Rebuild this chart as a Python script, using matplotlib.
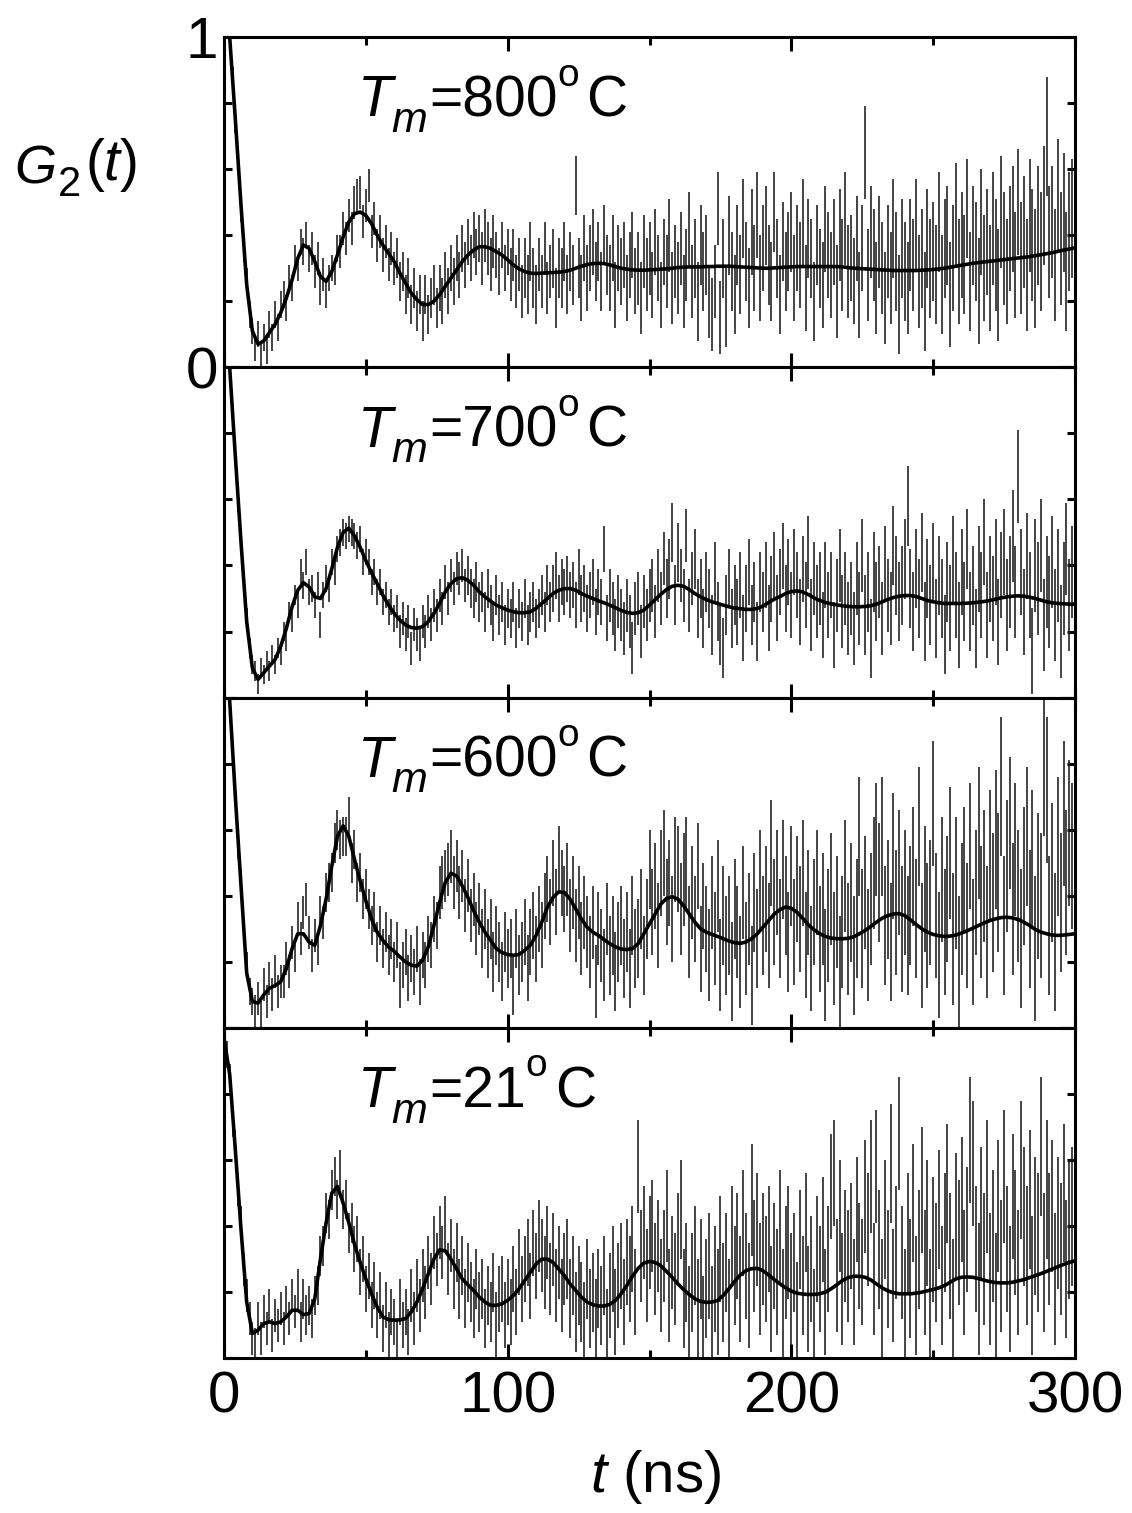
import numpy as np
import matplotlib
matplotlib.use('Agg')
import matplotlib.pyplot as plt  # noqa
from matplotlib.ticker import MultipleLocator

plt.rcParams.update({
    'font.family': ['Liberation Sans', 'DejaVu Sans'],
    'mathtext.fontset': 'custom',
    'mathtext.rm': 'Liberation Sans',
    'mathtext.it': 'Liberation Sans:italic',
    'axes.linewidth': 2.2,
})

# measured G2(t), one point per ns from t = 1 ns, in units of 0.01
g800 = [113, 99, 88, 74, 63, 48, 36, 26, 16, 11,
        6, 10, 4, 9, 5, 13, 9, 16, 12, 19,
        22, 18, 27, 24, 33, 30, 38, 35, 40, 33,
        36, 29, 33, 24, 28, 22, 27, 30, 29, 36,
        35, 42, 39, 46, 42, 50, 52, 53, 44, 49,
        55, 41, 45, 37, 41, 34, 38, 31, 36, 30,
        33, 26, 29, 22, 27, 19, 24, 17, 22, 14,
        22, 16, 21, 25, 18, 24, 20, 28, 23, 30,
        26, 33, 28, 36, 31, 38, 33, 40, 35, 39,
        33, 40, 36, 31, 38, 34, 29, 37, 30, 35,
        28, 34, 26, 31, 23, 30, 25, 35, 27, 22,
        31, 26, 36, 24, 29, 33, 21, 30, 27, 35,
        25, 32, 28, 55, 30, 24, 36, 27, 33, 38,
        29, 35, 26, 40, 31, 27, 36, 22, 33, 29,
        34, 24, 31, 37, 26, 30, 21, 35, 28, 33,
        25, 38, 30, 22, 35, 29, 40, 24, 32, 27,
        36, 23, 31, 42, 26, 33, 20, 37, 29, 34,
        20, 16, 26, 48, 15, 33, 18, 40, 29, 22,
        37, 28, 45, 32, 24, 41, 30, 46, 27, 36,
        43, 31, 26, 47, 33, 22, 38, 29, 35, 41,
        27, 36, 31, 44, 24, 39, 33, 20, 37, 30,
        25, 42, 34, 28, 38, 23, 40, 31, 45, 29,
        33, 26, 39, 22, 36, 65, 28, 41, 34, 24,
        38, 30, 21, 35, 27, 42, 32, 19, 36, 29,
        24, 37, 31, 43, 26, 33, 20, 39, 30, 35,
        28, 44, 25, 36, 40, 22, 33, 46, 29, 37,
        31, 48, 26, 40, 35, 23, 44, 30, 38, 27,
        42, 34, 25, 47, 36, 29, 39, 45, 31, 50,
        33, 41, 28, 46, 37, 30, 43, 35, 49, 70,
        38, 44, 31, 52, 36, 47, 29, 41, 45, 38]

g700 = [112, 102, 86, 74, 59, 48, 34, 24, 15, 10,
        8, 4, 9, 7, 11, 8, 13, 10, 15, 13,
        20, 17, 26, 23, 31, 28, 38, 34, 41, 32,
        33, 28, 34, 22, 31, 36, 33, 41, 38, 45,
        47, 50, 49, 51, 50, 49, 46, 48, 41, 44,
        41, 35, 38, 32, 35, 29, 31, 26, 29, 24,
        26, 20, 24, 19, 23, 15, 22, 19, 16, 23,
        20, 26, 22, 28, 25, 31, 27, 35, 30, 37,
        33, 39, 36, 40, 34, 37, 33, 30, 35, 29,
        32, 26, 33, 28, 23, 31, 25, 29, 22, 27,
        24, 29, 21, 27, 23, 30, 22, 26, 29, 24,
        27, 31, 26, 34, 29, 33, 37, 30, 35, 32,
        36, 31, 34, 28, 38, 30, 33, 27, 31, 35,
        26, 32, 29, 45, 24, 31, 27, 22, 29, 25,
        21, 28, 23, 15, 27, 30, 20, 29, 25, 31,
        34, 26, 37, 30, 42, 33, 39, 50, 31, 44,
        37, 31, 49, 28, 36, 42, 27, 33, 24, 35,
        30, 22, 38, 26, 19, 15, 28, 36, 24, 31,
        26, 34, 21, 30, 38, 25, 32, 20, 35, 29,
        37, 24, 33, 40, 27, 35, 43, 30, 38, 28,
        41, 34, 26, 39, 31, 44, 25, 36, 29, 33,
        22, 37, 28, 34, 19, 31, 40, 26, 33, 24,
        30, 21, 36, 27, 43, 25, 32, 18, 38, 29,
        35, 24, 41, 31, 27, 46, 37, 29, 34, 42,
        58, 33, 26, 39, 30, 44, 23, 36, 28, 41,
        24, 37, 30, 19, 35, 27, 42, 31, 22, 38,
        29, 45, 26, 34, 21, 39, 31, 47, 25, 36,
        30, 41, 23, 37, 44, 28, 35, 49, 32, 67,
        38, 26, 43, 31, 14, 40, 33, 46, 22, 35,
        29, 41, 25, 37, 20, 33, 45, 28, 38, 31]

g600 = [115, 97, 83, 72, 55, 44, 29, 19, 11, 8,
        5, 9, 3, 13, 8, 15, 10, 17, 11, 14,
        14, 21, 17, 26, 22, 33, 27, 35, 39, 29,
        22, 28, 24, 35, 32, 41, 44, 47, 56, 60,
        57, 58, 58, 64, 50, 54, 44, 47, 39, 42,
        36, 31, 35, 26, 31, 24, 29, 22, 27, 20,
        25, 13, 19, 23, 15, 21, 17, 24, 14, 22,
        19, 27, 25, 33, 31, 41, 44, 46, 48, 52,
        44, 49, 41, 46, 37, 43, 34, 39, 30, 36,
        27, 33, 24, 30, 20, 28, 23, 17, 26, 21,
        24, 13, 27, 19, 23, 29, 18, 26, 31, 24,
        33, 28, 37, 42, 35, 47, 38, 51, 44, 39,
        45, 34, 41, 31, 38, 27, 35, 29, 23, 32,
        14, 30, 25, 19, 33, 22, 28, 17, 26, 31,
        21, 29, 18, 34, 24, 27, 36, 22, 33, 48,
        35, 43, 31, 47, 53, 38, 44, 33, 51, 48,
        36, 45, 50, 29, 41, 33, 49, 24, 37, 30,
        22, 38, 27, 43, 19, 34, 25, 31, 17, 36,
        29, 20, 41, 24, 33, 16, 38, 27, 45, 31,
        39, 28, 53, 35, 44, 30, 48, 37, 26, 46,
        29, 42, 33, 47, 25, 38, 21, 35, 44, 27,
        36, 19, 31, 42, 24, 35, 17, 29, 46, 27,
        38, 22, 33, 58, 30, 41, 25, 36, 47, 57,
        44, 58, 31, 39, 26, 52, 35, 47, 30, 41,
        28, 37, 49, 33, 61, 25, 42, 31, 38, 68,
        34, 22, 45, 29, 39, 53, 27, 44, 20, 36,
        48, 31, 55, 26, 41, 59, 35, 46, 29, 52,
        38, 57, 44, 73, 31, 49, 62, 36, 54, 40,
        27, 46, 58, 33, 51, 24, 43, 37, 80, 72,
        31, 47, 26, 55, 38, 65, 44, 59, 52, 67]

g21 = [92, 85, 71, 65, 50, 41, 27, 19, 12, 6,
       4, 12, 6, 14, 9, 16, 7, 13, 10, 15,
       9, 17, 12, 19, 14, 21, 11, 18, 13, 16,
       12, 19, 22, 31, 34, 44, 42, 51, 55, 48,
       57, 45, 48, 38, 41, 33, 36, 26, 30, 21,
       25, 16, 22, 13, 19, 9, 16, 7, 14, 11,
       5, 17, 10, 14, 8, 19, 12, 22, 16, 25,
       20, 29, 24, 35, 30, 38, 32, 41, 27, 34,
       24, 32, 21, 28, 18, 26, 20, 15, 24, 17,
       21, 12, 19, 14, 23, 10, 18, 21, 13, 20,
       14, 24, 17, 29, 21, 27, 32, 22, 35, 28,
       37, 31, 26, 35, 24, 33, 22, 29, 19, 27,
       30, 18, 25, 14, 22, 17, 11, 24, 15, 20,
       12, 21, 16, 25, 9, 19, 27, 14, 22, 28,
       17, 29, 24, 33, 20, 58, 31, 38, 25, 35,
       40, 27, 34, 22, 31, 43, 19, 29, 24, 36,
       45, 18, 26, 13, 23, 31, 15, 27, 10, 21,
       28, 12, 24, 17, 33, 20, 29, 15, 37, 25,
       34, 21, 41, 28, 19, 48, 31, 39, 24, 33,
       27, 36, 18, 31, 23, 40, 16, 29, 35, 21,
       29, 14, 36, 22, 41, 18, 27, 11, 33, 24,
       39, 17, 30, 52, 56, 25, 43, 21, 34, 28,
       37, 20, 45, 31, 26, 49, 39, 55, 24, 58,
       33, 18, 42, 27, 59, 22, 35, 68, 29, 16,
       38, 24, 47, 19, 33, 51, 26, 41, 14, 36,
       29, 45, 22, 38, 53, 31, 17, 43, 35, 48,
       26, 39, 66, 59, 33, 21, 44, 30, 52, 24,
       37, 18, 46, 28, 55, 33, 21, 49, 38, 26,
       57, 43, 31, 48, 22, 40, 35, 64, 29, 51,
       36, 46, 24, 41, 33, 50, 27, 39, 43, 35]

# error bar half-lengths (units of 0.01), one value per 5 ns block
e800 = [3, 4, 4, 4, 4, 4, 5, 4, 5, 5, 5, 5, 6, 6, 6, 7, 7, 7, 8, 7,
        8, 9, 8, 9, 9, 10, 9, 10, 10, 11, 10, 11, 11, 12, 11, 12, 12, 13, 12, 12,
        13, 12, 13, 14, 13, 14, 14, 15, 14, 15, 15, 16, 15, 16, 17, 16, 17, 18, 17, 18]
e700 = [3, 3, 3, 3, 3, 4, 4, 4, 4, 4, 4, 4, 5, 5, 5, 5, 5, 6, 6, 6,
        6, 6, 6, 7, 7, 7, 7, 8, 8, 8, 8, 9, 8, 9, 9, 9, 10, 9, 10, 10,
        10, 11, 10, 11, 11, 12, 11, 12, 12, 12, 12, 13, 12, 13, 13, 14, 13, 14, 14, 14]
e600 = [4, 4, 5, 5, 5, 5, 5, 6, 6, 6, 6, 6, 7, 7, 7, 8, 8, 8, 9, 9,
        9, 10, 10, 10, 11, 11, 11, 12, 12, 12, 13, 13, 14, 13, 14, 15, 14, 15, 16, 15,
        16, 16, 17, 17, 18, 17, 18, 19, 18, 19, 19, 20, 19, 20, 21, 20, 21, 22, 21, 22]
e21 = [4, 5, 5, 5, 5, 6, 6, 6, 6, 7, 7, 7, 7, 8, 8, 8, 9, 9, 9, 10,
       10, 10, 11, 11, 12, 12, 12, 13, 13, 14, 14, 14, 15, 15, 16, 15, 16, 17, 16, 17,
       15, 16, 16, 17, 16, 17, 18, 17, 18, 19, 18, 19, 19, 20, 20, 19, 21, 21, 20, 21]

# fitted curves, one value every 2 ns from t = 0
fit800 = [1.25, 1.00, 0.75, 0.49, 0.25, 0.11, 0.07, 0.08, 0.105, 0.13,
          0.165, 0.21, 0.265, 0.33, 0.37, 0.36, 0.32, 0.275, 0.26, 0.29,
          0.34, 0.395, 0.44, 0.465, 0.47, 0.46, 0.435, 0.40, 0.37, 0.345,
          0.32, 0.285, 0.255, 0.225, 0.205, 0.19, 0.19, 0.20, 0.22, 0.245,
          0.27, 0.295, 0.32, 0.34, 0.355, 0.365, 0.365, 0.36, 0.35, 0.34,
          0.325, 0.31, 0.298, 0.29, 0.285, 0.284, 0.285, 0.286, 0.287, 0.288,
          0.29, 0.294, 0.30, 0.306, 0.311, 0.314, 0.315, 0.314, 0.31, 0.305,
          0.30, 0.297, 0.295, 0.294, 0.294, 0.295, 0.296, 0.297, 0.298, 0.30,
          0.302, 0.303, 0.304, 0.304, 0.304, 0.305, 0.305, 0.306, 0.306, 0.306,
          0.305, 0.304, 0.303, 0.302, 0.301, 0.30, 0.30, 0.301, 0.302, 0.303,
          0.304, 0.305, 0.305, 0.305, 0.305, 0.305, 0.305, 0.305, 0.305, 0.304,
          0.302, 0.30, 0.299, 0.298, 0.297, 0.296, 0.295, 0.294, 0.293, 0.293,
          0.293, 0.293, 0.293, 0.294, 0.295, 0.296, 0.298, 0.30, 0.303, 0.306,
          0.309, 0.312, 0.315, 0.317, 0.319, 0.321, 0.323, 0.325, 0.327, 0.329,
          0.331, 0.333, 0.335, 0.338, 0.341, 0.344, 0.347, 0.351, 0.355, 0.358,
          0.362]

fit700 = [1.25, 1.00, 0.73, 0.47, 0.23, 0.09, 0.055, 0.075, 0.095, 0.115,
          0.155, 0.21, 0.275, 0.325, 0.348, 0.335, 0.305, 0.30, 0.33, 0.39,
          0.455, 0.50, 0.513, 0.49, 0.455, 0.415, 0.378, 0.345, 0.31, 0.28,
          0.255, 0.235, 0.22, 0.212, 0.21, 0.215, 0.23, 0.255, 0.285, 0.32,
          0.345, 0.36, 0.363, 0.355, 0.34, 0.32, 0.305, 0.292, 0.28, 0.272,
          0.265, 0.26, 0.257, 0.257, 0.26, 0.27, 0.285, 0.30, 0.315, 0.325,
          0.33, 0.33, 0.325, 0.315, 0.307, 0.30, 0.293, 0.287, 0.28, 0.272,
          0.264, 0.258, 0.255, 0.257, 0.265, 0.28, 0.297, 0.313, 0.327, 0.337,
          0.34, 0.337, 0.327, 0.315, 0.305, 0.297, 0.29, 0.285, 0.28, 0.275,
          0.271, 0.269, 0.267, 0.267, 0.27, 0.277, 0.288, 0.298, 0.306, 0.315,
          0.321, 0.323, 0.32, 0.312, 0.302, 0.294, 0.288, 0.284, 0.281, 0.278,
          0.276, 0.275, 0.275, 0.276, 0.278, 0.283, 0.29, 0.297, 0.303, 0.307,
          0.309, 0.309, 0.306, 0.30, 0.294, 0.29, 0.287, 0.285, 0.285, 0.285,
          0.285, 0.286, 0.287, 0.289, 0.291, 0.294, 0.298, 0.302, 0.305, 0.307,
          0.308, 0.307, 0.304, 0.30, 0.295, 0.29, 0.287, 0.285, 0.284, 0.283,
          0.283]

fit600 = [1.25, 0.99, 0.70, 0.43, 0.166, 0.08, 0.075, 0.10, 0.12, 0.128,
          0.14, 0.18, 0.24, 0.285, 0.285, 0.26, 0.25, 0.31, 0.39, 0.49,
          0.58, 0.612, 0.58, 0.51, 0.445, 0.385, 0.33, 0.29, 0.265, 0.245,
          0.232, 0.215, 0.20, 0.19, 0.187, 0.205, 0.245, 0.31, 0.38, 0.44,
          0.468, 0.46, 0.43, 0.395, 0.355, 0.32, 0.29, 0.265, 0.24, 0.228,
          0.222, 0.22, 0.222, 0.235, 0.25, 0.28, 0.32, 0.365, 0.395, 0.412,
          0.41, 0.39, 0.36, 0.33, 0.305, 0.29, 0.28, 0.267, 0.255, 0.245,
          0.239, 0.237, 0.24, 0.255, 0.285, 0.315, 0.345, 0.375, 0.392, 0.397,
          0.39, 0.37, 0.345, 0.32, 0.30, 0.29, 0.283, 0.277, 0.27, 0.263,
          0.258, 0.256, 0.26, 0.27, 0.285, 0.305, 0.325, 0.345, 0.358, 0.366,
          0.362, 0.35, 0.332, 0.312, 0.297, 0.285, 0.277, 0.272, 0.27, 0.27,
          0.271, 0.276, 0.285, 0.295, 0.307, 0.32, 0.332, 0.34, 0.345, 0.346,
          0.34, 0.327, 0.313, 0.30, 0.29, 0.283, 0.279, 0.277, 0.278, 0.281,
          0.287, 0.294, 0.302, 0.31, 0.318, 0.325, 0.33, 0.334, 0.335, 0.333,
          0.328, 0.32, 0.31, 0.298, 0.29, 0.285, 0.281, 0.28, 0.281, 0.283,
          0.285]

fit21 = [0.97, 0.86, 0.63, 0.39, 0.17, 0.075, 0.085, 0.105, 0.11, 0.105,
         0.11, 0.125, 0.145, 0.145, 0.132, 0.135, 0.18, 0.30, 0.41, 0.50,
         0.52, 0.47, 0.41, 0.345, 0.29, 0.24, 0.195, 0.155, 0.125, 0.117,
         0.115, 0.116, 0.12, 0.14, 0.17, 0.21, 0.255, 0.30, 0.328, 0.325,
         0.30, 0.27, 0.24, 0.222, 0.205, 0.185, 0.17, 0.16, 0.16, 0.165,
         0.175, 0.19, 0.21, 0.235, 0.26, 0.285, 0.30, 0.30, 0.29, 0.27,
         0.25, 0.225, 0.205, 0.185, 0.17, 0.162, 0.158, 0.158, 0.163, 0.175,
         0.195, 0.22, 0.248, 0.272, 0.288, 0.293, 0.29, 0.28, 0.263, 0.245,
         0.225, 0.208, 0.193, 0.18, 0.172, 0.169, 0.17, 0.175, 0.19, 0.21,
         0.232, 0.252, 0.265, 0.271, 0.272, 0.265, 0.252, 0.238, 0.225, 0.213,
         0.203, 0.197, 0.194, 0.193, 0.193, 0.195, 0.20, 0.21, 0.222, 0.235,
         0.244, 0.248, 0.248, 0.245, 0.237, 0.225, 0.213, 0.204, 0.198, 0.195,
         0.195, 0.195, 0.197, 0.20, 0.204, 0.208, 0.213, 0.22, 0.23, 0.24,
         0.245, 0.246, 0.245, 0.241, 0.236, 0.232, 0.229, 0.228, 0.228, 0.23,
         0.234, 0.238, 0.244, 0.25, 0.256, 0.263, 0.27, 0.277, 0.284, 0.29,
         0.295]

temps = ['800', '700', '600', '21']
t_data = np.arange(1, 301)
t_fit = np.arange(0, 301, 2)

W, H = 1132., 1513.
TXT = 41


def after(ax, parent, s, dx, dy, size, italic=False):
    # place a text piece right after the previous one (offsets in points)
    return ax.annotate(s, xy=(1, 0), xycoords=parent, xytext=(dx, dy),
                       textcoords='offset points', fontsize=size,
                       fontstyle='italic' if italic else 'normal',
                       ha='left', va='bottom', annotation_clip=False)


def plot_panel(ax, g, err, fit, temp):
    ax.errorbar(t_data, np.array(g) / 100., yerr=np.repeat(err, 5) / 100.,
                fmt='none', ecolor='#1c1c1c', elinewidth=1.15, capsize=0)
    ax.plot(t_fit, fit, color='black', lw=2.6)
    ax.set_xlim(0, 300)
    ax.set_ylim(0, 1)
    ax.xaxis.set_major_locator(MultipleLocator(100))
    ax.xaxis.set_minor_locator(MultipleLocator(50))
    ax.yaxis.set_major_locator(MultipleLocator(1))
    ax.yaxis.set_minor_locator(MultipleLocator(0.2))
    ax.tick_params(which='both', direction='in', top=True, right=True,
                   width=2.2, labelsize=42)
    ax.tick_params(axis='x', pad=9)
    ax.tick_params(axis='y', pad=4.5)
    ax.tick_params(which='major', length=10)
    ax.tick_params(which='minor', length=6)
    # T_m = ... label built from pieces
    t = ax.text(47.2, 0.76, 'T', fontsize=TXT, fontstyle='italic',
                ha='left', va='baseline')
    after(ax, t, 'm', -1, -9, 31, italic=True)
    num = after(ax, t, '=' + temp, 26, 0, TXT)
    after(ax, num, 'o', 0, 25, 28)
    after(ax, num, 'C', 21, 0, TXT)


fig = plt.figure(figsize=(11.32, 15.13), dpi=100)
panel_h = 330.3
series = [(g800, e800, fit800), (g700, e700, fit700),
          (g600, e600, fit600), (g21, e21, fit21)]
axes = []
for k, (g, err, fit) in enumerate(series):
    top = 37 + panel_h * k
    ax = fig.add_axes([224 / W, 1 - (top + panel_h) / H, 851 / W, panel_h / H])
    plot_panel(ax, g, err, fit, temps[k])
    if k < 3:
        ax.tick_params(labelbottom=False)
    if k > 0:
        ax.tick_params(labelleft=False)
    axes.append(ax)

fig.text(656 / W, 1 - 1492 / H, r'$t$ (ns)', fontsize=42,
         ha='center', va='baseline')

# G_2(t) label at the top left
gl = fig.text(14 / W, 1 - 183 / H, 'G', fontsize=39, fontstyle='italic',
              ha='left', va='baseline')
after(axes[0], gl, '2', 1, -8, 30)
after(axes[0], gl, r'($t$)', 21, 0, 41)

fig.savefig('out.png', dpi=100)
